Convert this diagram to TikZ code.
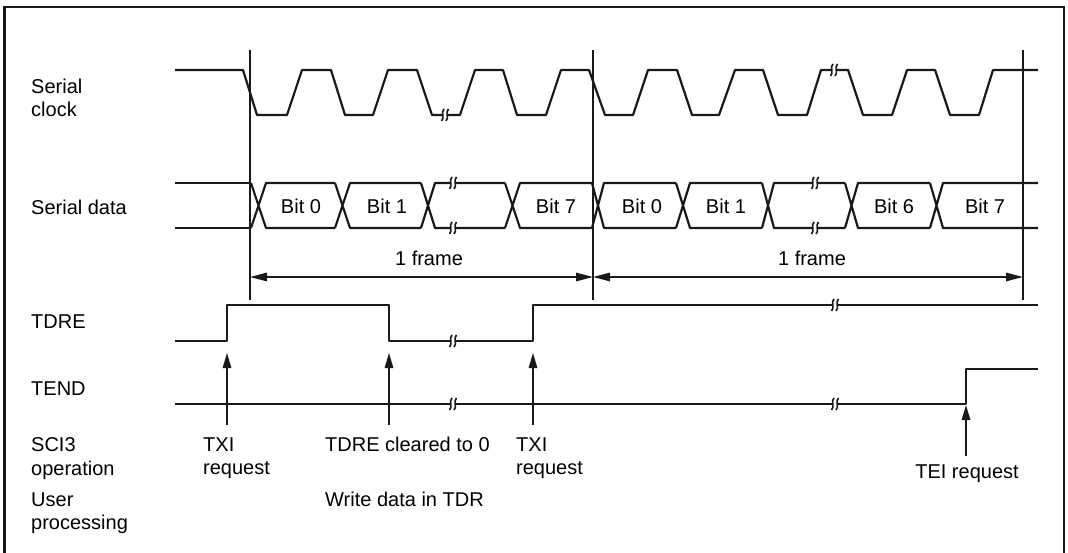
\documentclass[tikz,border=0pt]{standalone}
\usepackage{fontspec}
\setmainfont{Liberation Sans}
\usetikzlibrary{arrows.meta}

\begin{document}
\begin{tikzpicture}[x=1pt, y=-1pt,
    sig/.style={line width=2.2pt, line join=round, black!90},
    rul/.style={line width=1.6pt, black!90},
    dim/.style={{Triangle[length=17pt,width=8.5pt]}-{Triangle[length=17pt,width=8.5pt]}, line width=1.4pt, black!90},
    req/.style={-{Triangle[length=15pt,width=8.5pt]}, line width=1.5pt, black!90},
    lab/.style={anchor=base west, inner sep=0pt, font=\fontsize{20}{22}\selectfont, text=black},
    mid/.style={lab, anchor=base},
    brk/.pic={
      \fill[white] (-2.5,-3) rectangle (2.5,3);
      \draw[line width=1.6pt, black!90] (-1,-6) .. controls (-4.5,-3) and (0,3) .. (-3.5,6)
                                        (3.5,-6) .. controls (0,-3) and (4.5,3) .. (1,6);
    }]
    \useasboundingbox (0,0) rectangle (1068,553);
    % frame
    \draw[line width=2.2pt, black!90] (4.5,553) -- (4.5,7) -- (1064,7) -- (1064,553);
    % row labels
    \node[lab] (clk1) at (31,94) {Serial};
    \node[lab] (clk2) at (31,117) {clock};
    \node[lab] (dat) at (31,215) {Serial data};
    \node[lab] (tdre) at (31,328) {TDRE};
    \node[lab] (tend) at (31,395) {TEND};
    \node[lab] (sci1) at (31,451) {SCI3};
    \node[lab] (sci2) at (31,475) {operation};
    \node[lab] (usr1) at (31,506) {User};
    \node[lab] (usr2) at (31,529) {processing};
    % frame marks
    \coordinate (f1) at (250,50);  \coordinate (f1b) at (250,300);
    \coordinate (f2) at (593,50);  \coordinate (f2b) at (593,300);
    \coordinate (f3) at (1023,50); \coordinate (f3b) at (1023,300);
    \draw[rul] (f1) -- (f1b);  \draw[rul] (f2) -- (f2b);  \draw[rul] (f3) -- (f3b);
    \coordinate (d1) at (250,277); \coordinate (d2) at (593,277); \coordinate (d3) at (1023,277);
    \draw[dim] (d1) -- (d2);  \draw[dim] (d2) -- (d3);
    \node[mid] (fr1) at (429,266) {1 frame};
    \node[mid] (fr2) at (812,266) {1 frame};
    % clock
    \draw[sig] (175,70) -- (243,70) -- (257,115) -- (287,115) -- (302,70) -- (331,70) -- (345,115)
      -- (373,115) -- (388,70) -- (417,70) -- (432,115) -- (460,115) -- (475,70) -- (503,70)
      -- (517,115) -- (546,115) -- (561,70) -- (589,70) -- (605,115) -- (633,115) -- (648,70)
      -- (677,70) -- (692,115) -- (719,115) -- (735,70) -- (763,70) -- (778,115) -- (807,115)
      -- (821,70) -- (848,70) -- (863,115) -- (892,115) -- (907,70) -- (935,70) -- (950,115)
      -- (979,115) -- (993,70) -- (1038,70);
    % data
    \draw[sig] (175,183) -- (251,183) (175,228) -- (251,228);
    \foreach \a/\b/\c in {251/266/335, 335/350/421, 421/435/505, 505/520/592, 592/604/676,
                          676/690/762, 762/774/845, 845/858/930, 930/943/1038}
      \draw[sig] (\a,183) -- (\b,228) -- (\c,228) (\a,228) -- (\b,183) -- (\c,183);
    \foreach \x/\t in {301/Bit 0, 387/Bit 1, 556/Bit 7, 642/Bit 0, 726/Bit 1, 894/Bit 6, 985/Bit 7}
      \node[mid] (b\x) at (\x,214) {\t};
    % flags
    \draw[sig] (175,341) -- (227,341) -- (227,305) -- (389,305) -- (389,341) -- (533,341)
      -- (533,305) -- (1038,305);
    \draw[sig] (175,404) -- (966,404) -- (966,369) -- (1038,369);
    \foreach \x/\y in {445/115, 834/70, 453/183, 453/228, 815/183, 815/228,
                       453/341, 835/305, 453/404, 835/404}
      \pic at (\x,\y) {brk};
    % requests
    \coordinate (q1) at (227,425); \coordinate (q1t) at (227,353);
    \coordinate (q2) at (389,425); \coordinate (q2t) at (389,353);
    \coordinate (q3) at (533,425); \coordinate (q3t) at (533,353);
    \coordinate (q4) at (966,456); \coordinate (q4t) at (966,405);
    \draw[req] (q1) -- (q1t);  \draw[req] (q2) -- (q2t);
    \draw[req] (q3) -- (q3t);  \draw[req] (q4) -- (q4t);
    \node[lab] (txi1a) at (203,451) {TXI};
    \node[lab] (txi1b) at (203,474) {request};
    \node[lab] (clr) at (325,451) {TDRE cleared to 0};
    \node[lab] (wr) at (325,506) {Write data in TDR};
    \node[lab] (txi2a) at (516,451) {TXI};
    \node[lab] (txi2b) at (516,474) {request};
    \node[mid] (tei) at (967,478) {TEI request};
  \end{tikzpicture}
\end{document}
